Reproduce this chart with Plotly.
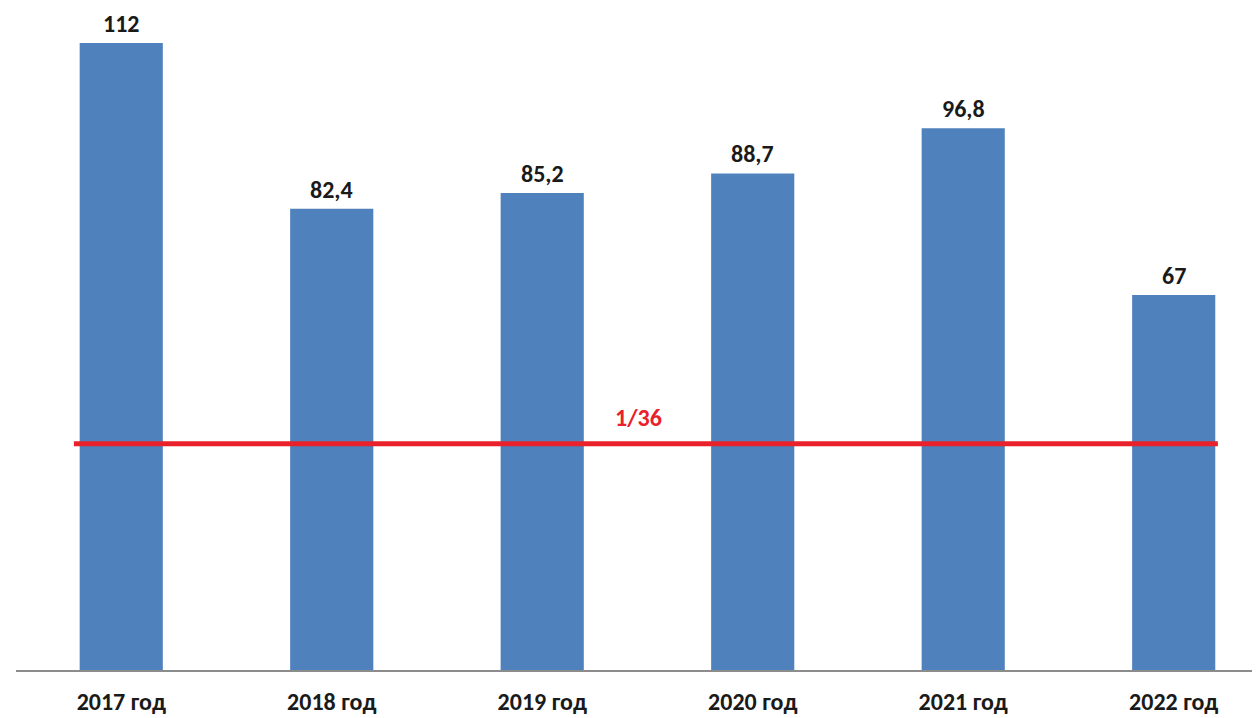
import plotly.graph_objects as go

years = ["2017 год", "2018 год", "2019 год", "2020 год", "2021 год", "2022 год"]
values = [112, 82.4, 85.2, 88.7, 96.8, 67]
value_labels = ["112", "82,4", "85,2", "88,7", "96,8", "67"]
threshold_value = 40.4
threshold_label = "1/36"

FONT = "Liberation Sans Narrow, Carlito, Lato, sans-serif"
FS = 24
xs = list(range(len(years)))

fig = go.Figure()
fig.add_trace(go.Bar(
    x=xs, y=values, width=0.395,
    marker=dict(color="#4F81BD", line=dict(width=0)),
    hoverinfo="skip",
))
for x, v, lab in zip(xs, values, value_labels):
    fig.add_annotation(x=x, y=v, yanchor="bottom", yshift=4, borderpad=0,
                       text="<b>" + lab + "</b>",
                       showarrow=False, font=dict(family=FONT, size=FS, color="#1a1a1a"))

fig.add_shape(type="line", xref="x", yref="y",
              x0=-0.225, x1=5.21, y0=threshold_value, y1=threshold_value,
              line=dict(color="#E8212B", width=5))
fig.add_annotation(x=2.455, y=threshold_value, yshift=26, text="<b>" + threshold_label + "</b>",
                   showarrow=False, font=dict(family=FONT, size=FS, color="#E8212B"))

fig.update_layout(
    width=1260, height=718,
    margin=dict(l=8, r=8, t=0, b=56),
    plot_bgcolor="white", paper_bgcolor="white",
    showlegend=False,
    font=dict(family=FONT, size=FS, color="#1a1a1a"),
)
fig.update_xaxes(range=[-0.5, 5.41], tickvals=xs,
                 ticktext=["<b>" + y + "</b>" for y in years],
                 showline=True, linecolor="#8c8c8c", linewidth=1.5,
                 showgrid=False, zeroline=False,
                 ticks="outside", ticklen=9, tickcolor="rgba(0,0,0,0)",
                 tickfont=dict(family=FONT, size=FS, color="#1a1a1a"))
fig.update_yaxes(range=[0, 118.26], visible=False, showgrid=False, zeroline=False)

fig.write_html("out.html")
